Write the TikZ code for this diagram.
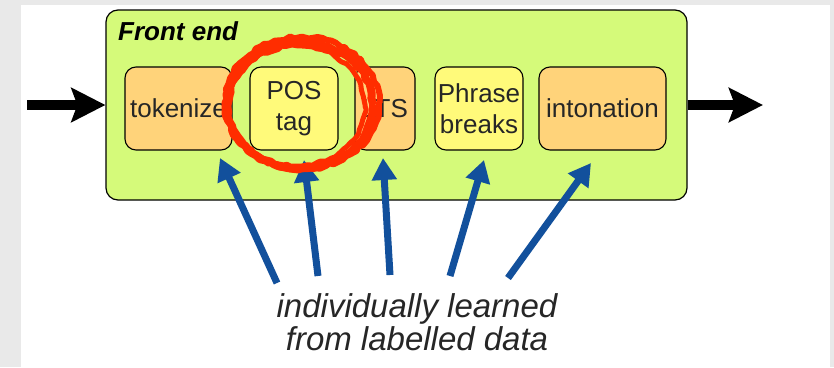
\documentclass[tikz,border=0pt]{standalone}
\usepackage{fontspec}
\setmainfont{Liberation Sans}
\usetikzlibrary{arrows.meta,decorations.pathmorphing}

\definecolor{slidegray}{RGB}{233,233,233}
\definecolor{frontgreen}{RGB}{213,250,122}
\definecolor{stageorange}{RGB}{255,211,122}
\definecolor{stageyellow}{RGB}{255,250,122}
\definecolor{learnblue}{RGB}{18,80,156}
\definecolor{ringred}{RGB}{255,45,0}

\tikzset{
  stage/.style={draw=black, line width=1.1pt, rounded corners=11pt, inner sep=0pt,
    minimum height=83pt, align=center, text=black!85,
    font=\fontsize{26}{31}\selectfont},
  orangestage/.style={stage, fill=stageorange},
  yellowstage/.style={stage, fill=stageyellow},
  flow/.style={line width=10pt, -{Stealth[length=34pt,width=34pt,inset=6pt]}},
  learned/.style={draw=learnblue!85!black, line width=7pt, learnblue,
    -{Triangle[length=22pt,width=24pt]}},
  ring/.style={ringred, line width=7pt, line join=round,
    decorate, decoration={random steps, segment length=5pt, amplitude=1.5pt}}
}

\begin{document}
\begin{tikzpicture}[x=1pt, y=-1pt]
		% slide
		\fill[slidegray] (0,0) rectangle (834,367);
		\fill[white] (21,5) rectangle (830,367);
		\useasboundingbox (0,0) rectangle (834,367);
		% front end
		\node[draw=black, line width=1.2pt, fill=frontgreen, rounded corners=12pt,
		  minimum width=581pt, minimum height=190pt] (front) at (396.5,105) {};
		\node[anchor=base west, inner sep=0pt, font=\fontsize{26}{28}\selectfont\bfseries\itshape]
		  (title) at (118,40) {Front end};
		% stages
		\node[orangestage, minimum width=107pt] (tok) at (178.5,108.5) {tokenize};
		\node[yellowstage, minimum width=88pt]  (pos) at (294,108.5) {POS\\tag};
		\node[orangestage, minimum width=60pt]  (lts) at (385,108.5) {LTS};
		\node[yellowstage, minimum width=88pt]  (phr) at (479,108.5) {Phrase\\breaks};
		\node[orangestage, minimum width=127pt] (into) at (602.5,108.5) {intonation};
		% in and out
		\coordinate (in)  at (27,105);
		\coordinate (out) at (763,105);
		\draw[flow] (in) -- (front.west);
		\draw[flow] (front.east) -- (out);
		% learned from data
		\coordinate (t1) at (277,283); \coordinate (h1) at (220,158);
		\coordinate (t2) at (318,276); \coordinate (h2) at (304,160);
		\coordinate (t3) at (390,275); \coordinate (h3) at (383,158);
		\coordinate (t4) at (450,276); \coordinate (h4) at (484,160);
		\coordinate (t5) at (508,278); \coordinate (h5) at (591,163);
		\foreach\i in {1,...,5}
		\draw[learned] (t\i) -- (h\i);
		% circle round POS tag
		\pgfmathsetseed{11}
		\draw[ring, line width=8pt] (300,105) ellipse (73 and 63);
		\draw[ring, line width=6pt] (302,103) ellipse (77 and 66);
		\draw[ring, line width=5pt] (297,106) ellipse (68 and 60);
		\node[anchor=north, inner sep=0pt, align=center, text=black!85,
		  font=\fontsize{33}{33}\selectfont\itshape] (note) at (417,293)
		  {individually learned\\from labelled data};
	\end{tikzpicture}
\end{document}
